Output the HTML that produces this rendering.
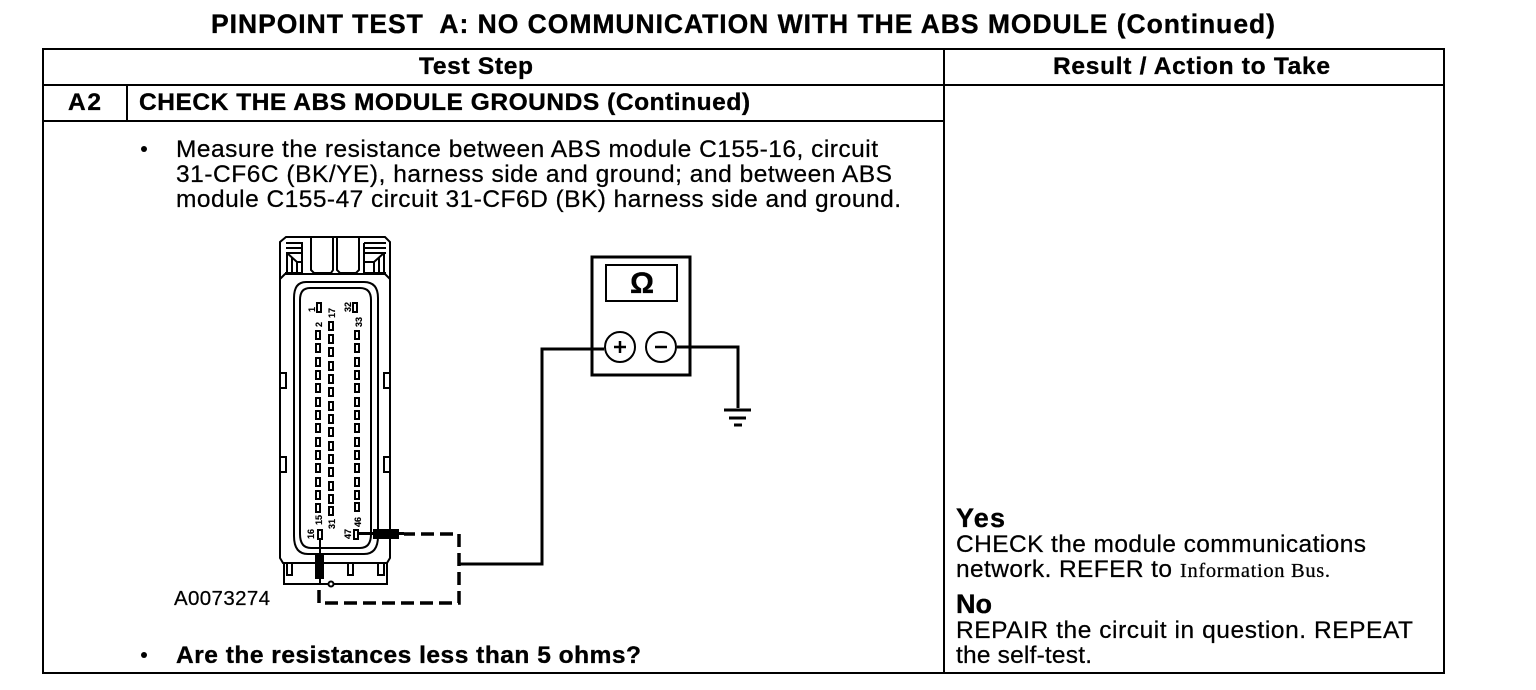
<!DOCTYPE html>
<html><head><meta charset="utf-8"><style>
html,body{margin:0;padding:0;background:#fff;width:1536px;height:690px;overflow:hidden}
svg{display:block}
text{font-family:"Liberation Sans",sans-serif;fill:#000;stroke:#000;stroke-width:.25}
.b{font-weight:bold;stroke-width:.35}
.t{font-size:24.5px}
.s{font-size:9px;font-weight:bold;stroke-width:.15}
.l{fill:none;stroke:#000;stroke-width:2}
.p rect{fill:#fff;stroke:#000;stroke-width:2}
</style></head><body>
<svg width="1536" height="690" viewBox="0 0 1536 690" xmlns="http://www.w3.org/2000/svg">
<!-- title -->
<text class="b" x="211" y="33" font-size="26.5" textLength="1064" lengthAdjust="spacing" xml:space="preserve">PINPOINT TEST  A: NO COMMUNICATION WITH THE ABS MODULE (Continued)</text>
<!-- table -->
<g shape-rendering="crispEdges" fill="#000">
<rect x="42" y="48" width="1403" height="2"/>
<rect x="42" y="84" width="1403" height="2"/>
<rect x="42" y="120" width="902" height="2"/>
<rect x="42" y="672" width="1403" height="2"/>
<rect x="42" y="48" width="2" height="626"/>
<rect x="943" y="48" width="2" height="626"/>
<rect x="1443" y="48" width="2" height="626"/>
<rect x="126" y="85" width="2" height="36"/>
</g>
<text class="b t" x="419" y="74" textLength="114" lengthAdjust="spacing">Test Step</text>
<text class="b t" x="1053" y="74" textLength="277" lengthAdjust="spacing">Result / Action to Take</text>
<text class="b t" x="68" y="110" textLength="33" lengthAdjust="spacing">A2</text>
<text class="b t" x="139" y="110" textLength="611" lengthAdjust="spacing">CHECK THE ABS MODULE GROUNDS (Continued)</text>
<circle cx="144" cy="149" r="3"/>
<text class="t" x="176" y="157" textLength="702" lengthAdjust="spacing">Measure the resistance between ABS module C155-16, circuit</text>
<text class="t" x="176" y="182" textLength="716" lengthAdjust="spacing">31-CF6C (BK/YE), harness side and ground; and between ABS</text>
<text class="t" x="176" y="207" textLength="725" lengthAdjust="spacing">module C155-47 circuit 31-CF6D (BK) harness side and ground.</text>
<text x="174" y="605" font-size="20.5" textLength="96" lengthAdjust="spacing">A0073274</text>
<circle cx="144" cy="655" r="3"/>
<text class="b t" x="176" y="663" textLength="465" lengthAdjust="spacing">Are the resistances less than 5 ohms?</text>
<!-- right column -->
<text class="b" x="956" y="527" font-size="27" textLength="49" lengthAdjust="spacing">Yes</text>
<text class="t" x="956" y="552" textLength="410" lengthAdjust="spacing">CHECK the module communications</text>
<text class="t" x="956" y="577" textLength="216" lengthAdjust="spacing">network. REFER to</text>
<text x="1180" y="577" font-size="20.5" style="font-family:'Liberation Serif',serif" textLength="150" lengthAdjust="spacing">Information Bus.</text>
<text class="b" x="956" y="613" font-size="27" textLength="36" lengthAdjust="spacing">No</text>
<text class="t" x="956" y="638" textLength="457" lengthAdjust="spacing">REPAIR the circuit in question. REPEAT</text>
<text class="t" x="956" y="663" textLength="136" lengthAdjust="spacing">the self-test.</text>
<!-- connector body -->
<g class="l">
<path d="M286 237H385L390 242V558L387 563H283L280 558V242Z"/>
<path d="M280 279L285 274H385L390 279"/>
<path d="M306 282H364Q378 282 378 298V536Q378 554 364 554H308Q294 554 294 536V298Q294 282 306 282Z"/>
<path d="M310 288H360Q371 288 371 300V534Q371 548 360 548H311Q300 548 300 534V300Q300 288 310 288Z"/>
<!-- top latches -->
<path d="M286 243H302V273H285"/>
<path d="M286 248H302M286 253H302M287 253V273M292 258V273M297 262V273"/>
<path d="M287 253L297 262H302"/>
<path d="M364 243H386M364 243V273H386M364 248H386M364 253H386M384 253V273M379 258V273M374 262V273"/>
<path d="M384 253L374 262H364"/>
<path d="M311 237V270L314 273H331L333 270V237M337 237V270L340 273H356L359 270V237"/>
<!-- side tabs -->
<path d="M280 373H286V388H280M390 373H384V388H390M280 457H286V472H280M390 457H384V472H390"/>
<!-- bottom tabs -->
<path d="M284 563V584H387V563"/>
<path d="M287 563V575H292V563M348 563V575H353V563M378 563V575H384V563"/>
</g>
<!-- pins -->
<g class="p" shape-rendering="crispEdges">
<rect x="317" y="303" width="4" height="9"/>
<rect x="316" y="331" width="4" height="8"/><rect x="316" y="344" width="4" height="8"/><rect x="316" y="358" width="4" height="8"/><rect x="316" y="371" width="4" height="8"/><rect x="316" y="384" width="4" height="8"/><rect x="316" y="398" width="4" height="8"/><rect x="316" y="411" width="4" height="8"/><rect x="316" y="424" width="4" height="8"/><rect x="316" y="438" width="4" height="8"/><rect x="316" y="451" width="4" height="8"/><rect x="316" y="464" width="4" height="8"/><rect x="316" y="478" width="4" height="8"/><rect x="316" y="491" width="4" height="8"/><rect x="316" y="504" width="4" height="8"/>
<rect x="329" y="322" width="4" height="8"/><rect x="329" y="335" width="4" height="8"/><rect x="329" y="348" width="4" height="8"/><rect x="329" y="362" width="4" height="8"/><rect x="329" y="375" width="4" height="8"/><rect x="329" y="388" width="4" height="8"/><rect x="329" y="402" width="4" height="8"/><rect x="329" y="415" width="4" height="8"/><rect x="329" y="428" width="4" height="8"/><rect x="329" y="442" width="4" height="8"/><rect x="329" y="455" width="4" height="8"/><rect x="329" y="468" width="4" height="8"/><rect x="329" y="482" width="4" height="8"/><rect x="329" y="495" width="4" height="8"/><rect x="329" y="507" width="4" height="8"/>
<rect x="353" y="303" width="4" height="9"/>
<rect x="355" y="331" width="4" height="8"/><rect x="355" y="344" width="4" height="8"/><rect x="355" y="358" width="4" height="8"/><rect x="355" y="371" width="4" height="8"/><rect x="355" y="384" width="4" height="8"/><rect x="355" y="398" width="4" height="8"/><rect x="355" y="411" width="4" height="8"/><rect x="355" y="424" width="4" height="8"/><rect x="355" y="438" width="4" height="8"/><rect x="355" y="451" width="4" height="8"/><rect x="355" y="464" width="4" height="8"/><rect x="355" y="478" width="4" height="8"/><rect x="355" y="491" width="4" height="8"/><rect x="355" y="503" width="4" height="8"/>
<rect x="318" y="530" width="4" height="9"/>
<rect x="354" y="530" width="4" height="9"/>
</g>
<!-- pin labels -->
<g>
<text class="s" transform="translate(315,312) rotate(-90)">1</text>
<text class="s" transform="translate(322,327) rotate(-90)">2</text>
<text class="s" transform="translate(335,318) rotate(-90)">17</text>
<text class="s" transform="translate(351,312) rotate(-90)">32</text>
<text class="s" transform="translate(362,327) rotate(-90)">33</text>
<text class="s" transform="translate(322,525) rotate(-90)">15</text>
<text class="s" transform="translate(335,529) rotate(-90)">31</text>
<text class="s" transform="translate(361,527) rotate(-90)">46</text>
<text class="s" transform="translate(314,539) rotate(-90)">16</text>
<text class="s" transform="translate(351,539) rotate(-90)">47</text>
</g>
<!-- probes -->
<g shape-rendering="crispEdges" fill="#000">
<rect x="319" y="539" width="2" height="20"/>
<rect x="315" y="553" width="9" height="26"/>
<rect x="319" y="579" width="2" height="6"/>
<rect x="359" y="532" width="14" height="3"/>
<rect x="373" y="529" width="26" height="10"/>
<rect x="399" y="532" width="5" height="3"/>
</g>
<circle cx="331" cy="584" r="2.5" fill="#fff" stroke="#000" stroke-width="2"/>
<!-- dashed lead -->
<path d="M319 590V603H459V534H404" fill="none" stroke="#000" stroke-width="3.5" stroke-dasharray="13 6"/>
<!-- meter -->
<rect x="592" y="257" width="98" height="118" fill="none" stroke="#000" stroke-width="3"/>
<rect x="606" y="265" width="71" height="36" fill="none" stroke="#000" stroke-width="2"/>
<text class="b" x="642" y="293" font-size="30" text-anchor="middle">Ω</text>
<path d="M460 564H542V349H604M677 347H738V408" fill="none" stroke="#000" stroke-width="3"/>
<circle cx="620" cy="347" r="15" fill="#fff" stroke="#000" stroke-width="2"/>
<circle cx="661" cy="347" r="15" fill="#fff" stroke="#000" stroke-width="2"/>
<path d="M614 347H626M620 341V353M655 347H667" stroke="#000" stroke-width="2.5" fill="none"/>
<path d="M724 410H751M729 418H746M734 425H742" stroke="#000" stroke-width="3" fill="none"/>
</svg>
</body></html>
